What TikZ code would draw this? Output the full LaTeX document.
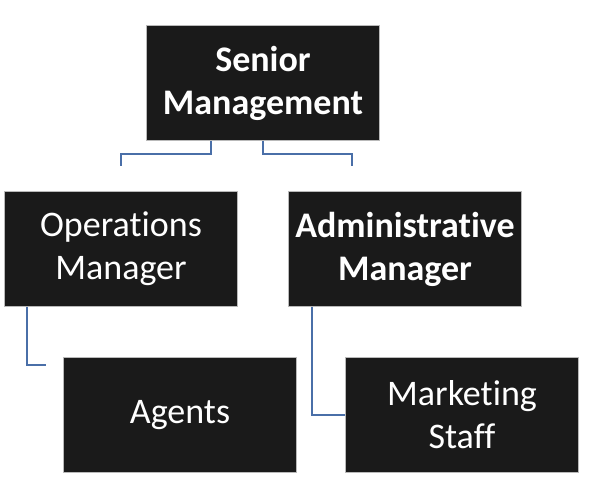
\documentclass[tikz,border=0pt]{standalone}
\usepackage{fontspec}
\setmainfont{Carlito}[Ligatures=NoCommon]
\definecolor{linkblue}{HTML}{4A6FA8}
\definecolor{boxblack}{HTML}{1A1A1A}
\tikzset{
  orgbox/.style={fill=boxblack,draw=gray!55,line width=.8pt,text=white,
    minimum width=233pt,minimum height=115pt,inner sep=2pt,align=center,
    font=\fontsize{36}{43}\selectfont},
  link/.style={draw=linkblue,line width=1.2pt}
}
\begin{document}
\begin{tikzpicture}[x=1pt,y=-1pt]
      \useasboundingbox (0,0) rectangle (597,487);
      \node[orgbox] (senior) at (263,83) {\bfseries Senior\\ \bfseries Management};
      \node[orgbox] (ops) at (121,249) {Operations\\ Manager};
      \node[orgbox] (admin) at (405,249) {\bfseries Administrative\\ \bfseries Manager};
      \node[orgbox] (agents) at (180,415) {Agents};
      \node[orgbox] (mkt) at (462,415) {Marketing\\ Staff};
      % the lines stop short of the boxes below
      \coordinate (opstop) at ([yshift=25pt]ops.north);
      \coordinate (admintop) at ([yshift=25pt,xshift=-53pt]admin.north);
      \coordinate (agentsend) at ([xshift=-17pt,yshift=50pt]agents.west);
      \draw[link] ([xshift=-52pt]senior.south) -- ++(0,13) -| (opstop);
      \draw[link] (senior.south) -- ++(0,13) -| (admintop);
      \draw[link] ([xshift=-94pt]ops.south) |- (agentsend);
      \draw[link] ([xshift=-93pt]admin.south) |- (mkt.west);
    \end{tikzpicture}
\end{document}
